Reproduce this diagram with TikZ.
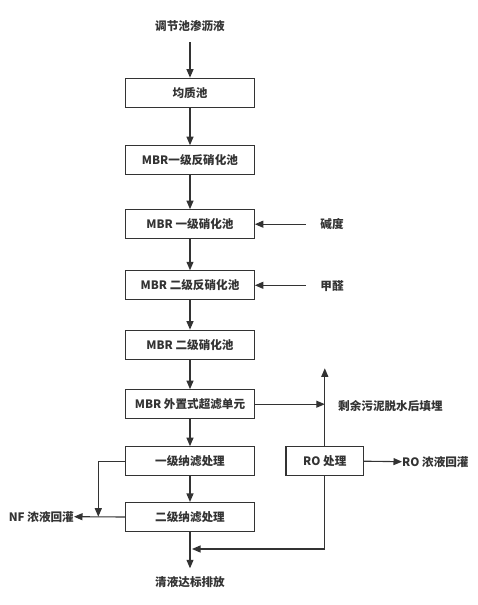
\documentclass[tikz,border=0pt]{standalone}
\usepackage{fontspec}
\setmainfont{Noto Sans CJK SC}
\usetikzlibrary{arrows.meta}
\definecolor{ink}{HTML}{333333}
\begin{document}
\begin{tikzpicture}[x=1pt,y=-1pt,
  font=\fontsize{11.6}{13}\selectfont\bfseries,
  box/.style={draw=ink,line width=1.1pt,minimum width=128.6pt,minimum height=29pt,inner sep=0pt,text=ink},
  lbl/.style={inner sep=0pt,text=ink},
  flow/.style={draw=ink,line width=1.1pt,-{Triangle[length=8.5pt,width=7pt]}},
  plain/.style={draw=ink,line width=1.1pt}]
\useasboundingbox (0,0) rectangle (477,605);
\node[lbl] (src) at (190,26) {调节池渗沥液};
\node[box] (b1) at (190,92.7) {均质池};
\node[box] (b2) at (190,160.2) {MBR一级反硝化池};
\node[box] (b3) at (190,224.2) {MBR 一级硝化池};
\node[box] (b4) at (190,285.3) {MBR 二级反硝化池};
\node[box] (b5) at (190,344.7) {MBR 二级硝化池};
\node[box] (b6) at (190,404.2) {MBR 外置式超滤单元};
\node[box] (b7) at (190,461.2) {一级纳滤处理};
\node[box] (b8) at (190,517) {二级纳滤处理};
\node[box,minimum width=77.7pt] (ro) at (324.8,461.2) {RO 处理};
\node[lbl] (out) at (190,582) {清液达标排放};
\node[lbl] (jd) at (332,224.2) {碱度};
\node[lbl] (jq) at (332,286) {甲醛};
\node[lbl,anchor=west] (sludge) at (338,406.5) {剩余污泥脱水后填埋};
\node[lbl,anchor=west] (roc) at (402,461.7) {RO 浓液回灌};
\node[lbl,anchor=east] (nfc) at (74,516.7) {NF 浓液回灌};
\coordinate (srcb) at (190,42);
\coordinate (jdl) at (305.7,224.2);
\coordinate (jql) at (305.7,285.3);
\coordinate (up) at (324.8,368.3);
\coordinate (sj) at (324.8,404.2);
\coordinate (nfj) at (98.3,461.2);
\coordinate (nfk) at (98.3,516.7);
\coordinate (roj) at (324.8,549);
\coordinate (mj) at (190,549);
\coordinate (outt) at (190,568.3);
\draw[flow] (srcb) -- (b1);
\draw[flow] (b1) -- (b2);
\draw[flow] (b2) -- (b3);
\draw[flow] (b3) -- (b4);
\draw[flow] (b4) -- (b5);
\draw[flow] (b5) -- (b6);
\draw[flow] (b6) -- (b7);
\draw[flow] (b7) -- (b8);
\draw[flow] (b8) -- (outt);
\draw[flow] (jdl) -- (b3);
\draw[flow] (jql) -- (b4);
\draw[flow] (b6.east) -- (sj);
\draw[flow] (ro.north) -- (up);
\draw[flow] (ro.east) -- (roc.west);
\draw[flow] (b7.west) -- (nfj) -- (nfk);
\draw[flow] (b8.west) -- (nfc.east);
\draw[flow] (ro.south) -- (roj) -- ([xshift=2pt]mj);
\end{tikzpicture}
\end{document}
